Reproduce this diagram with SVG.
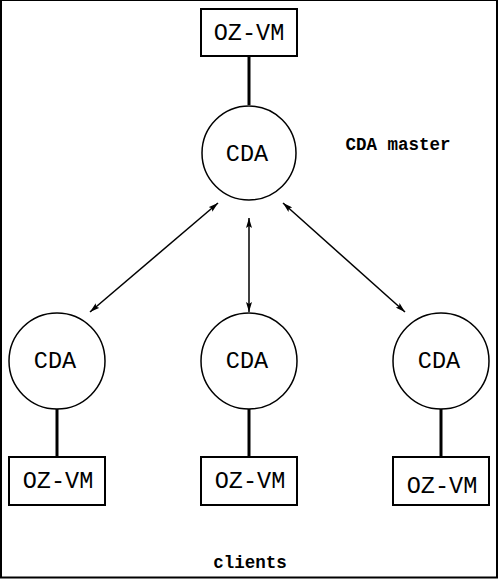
<svg xmlns="http://www.w3.org/2000/svg" width="499" height="579" viewBox="0 0 499 579">
<style>
.box{fill:#fff;stroke:#000;stroke-width:2}
.circ{fill:#fff;stroke:#000;stroke-width:1.5}
.lbl{font-family:"Liberation Mono","Courier New",monospace;font-size:23.5px;fill:#000;text-anchor:middle}
.note{font-family:"Liberation Mono","Courier New",monospace;font-size:17.5px;font-weight:bold;fill:#000;text-anchor:middle}
.link{stroke:#000;stroke-width:3;fill:none}
.arr{stroke:#000;stroke-width:1.5;fill:none;marker-start:url(#ah);marker-end:url(#ah)}
</style>
<defs>
<marker id="ah" viewBox="0 0 10 6" refX="10" refY="3" markerWidth="10" markerHeight="6" markerUnits="userSpaceOnUse" orient="auto-start-reverse">
<path d="M0,0 L10,3 L0,6 L2,3 Z" fill="#000"/>
</marker>
</defs>
<rect x="1" y="0" width="496" height="577.5" fill="none" stroke="#000" stroke-width="2"/>
<g id="connectors">
<line class="link" x1="249" y1="56" x2="249" y2="105"/>
<line class="link" x1="57" y1="409" x2="57" y2="457"/>
<line class="link" x1="249" y1="409" x2="249" y2="457"/>
<line class="link" x1="441" y1="409" x2="441" y2="457"/>
<line class="arr" x1="218" y1="203" x2="90" y2="312"/>
<line class="arr" x1="249" y1="218" x2="249" y2="312"/>
<line class="arr" x1="283" y1="203" x2="405" y2="312"/>
</g>
<g id="vm-top">
<rect class="box" x="201" y="9" width="96" height="47"/>
<text class="lbl" x="249" y="40">OZ-VM</text>
</g>
<g id="cda-master">
<circle class="circ" cx="249" cy="153" r="47"/>
<text class="lbl" x="247" y="161">CDA</text>
</g>
<g id="cda-master-label">
<text class="note" x="398" y="150">CDA master</text>
</g>
<g id="cda-left">
<circle class="circ" cx="57" cy="361" r="48"/>
<text class="lbl" x="55" y="368">CDA</text>
</g>
<g id="cda-mid">
<circle class="circ" cx="249" cy="361" r="48"/>
<text class="lbl" x="247" y="368">CDA</text>
</g>
<g id="cda-right">
<circle class="circ" cx="441" cy="361" r="48"/>
<text class="lbl" x="439" y="368">CDA</text>
</g>
<g id="vm-left">
<rect class="box" x="9" y="457" width="96" height="48"/>
<text class="lbl" x="58" y="488">OZ-VM</text>
</g>
<g id="vm-mid">
<rect class="box" x="201" y="457" width="96" height="48"/>
<text class="lbl" x="250" y="488">OZ-VM</text>
</g>
<g id="vm-right">
<rect class="box" x="393" y="457" width="96" height="48"/>
<text class="lbl" x="442" y="493">OZ-VM</text>
</g>
<g id="clients-label">
<text class="note" x="250" y="568">clients</text>
</g>
</svg>
